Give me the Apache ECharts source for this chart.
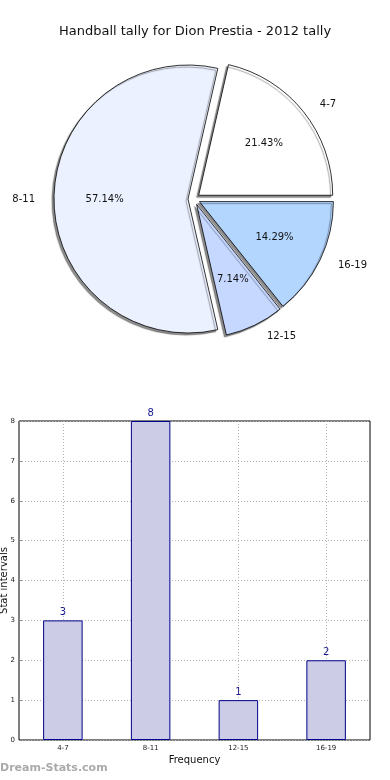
<!DOCTYPE html>
<html><head><meta charset="utf-8">
<script src="https://cdn.jsdelivr.net/npm/echarts@6/dist/echarts.min.js"></script>
<style>html,body{margin:0;padding:0;background:#fff}#c{width:390px;height:780px}</style>
</head><body><div id="c"></div>
<script>
var categories = ['4-7', '8-11', '12-15', '16-19'];
var counts = [3, 8, 1, 2];
var sliceColors = ['#ffffff', '#ebf1ff', '#c6d8ff', '#b3d6ff'];
var yTicks = [0, 1, 2, 3, 4, 5, 6, 7, 8];
var titleText = 'Handball tally for Dion Prestia - 2012 tally';

var total = counts.reduce(function (a, b) { return a + b; }, 0);
var FONT = 'DejaVu Sans';
var pieCenter = [194, 199];
var R = 134;

function pieData(withColor) {
  return categories.map(function (c, i) {
    return {
      name: c, value: counts[i], selected: true,
      itemStyle: withColor ? { color: sliceColors[i] } : { color: 'rgba(0,0,0,0)', borderWidth: 0 }
    };
  });
}

var chart = echarts.init(document.getElementById('c'), null, { renderer: 'canvas' });
chart.setOption({
  animation: false,
  title: {
    text: titleText, left: 'center', top: 20,
    textStyle: { fontFamily: FONT, fontSize: 13, fontWeight: 'normal', color: '#111' }
  },
  graphic: [{
    type: 'text', left: 0, top: 763,
    style: { text: 'Dream-Stats.com', fontFamily: FONT, fontSize: 11, fontWeight: 'bold', fill: '#aaaaaa' }
  }],
  grid: {
    left: 19, right: 20, top: 421, bottom: 40, show: true,
    containLabel: false, outerBoundsMode: 'none',
    borderColor: '#000', borderWidth: 1, backgroundColor: 'transparent'
  },
  xAxis: {
    type: 'category', data: categories,
    name: 'Frequency', nameLocation: 'middle', nameGap: 15, nameMoveOverlap: false,
    nameTextStyle: { fontFamily: FONT, fontSize: 10, color: '#111' },
    axisLine: { show: false },
    axisTick: { show: true, alignWithLabel: true, inside: true, length: 3, lineStyle: { color: '#888' } },
    axisLabel: { fontFamily: FONT, fontSize: 7, color: '#222', margin: 5 },
    splitLine: { show: true, alignWithLabel: true, lineStyle: { color: '#b4b4b4', type: [1, 2], width: 1 } }
  },
  yAxis: {
    type: 'value', min: 0, max: 8, interval: 1,
    name: 'Stat intervals', nameLocation: 'middle', nameGap: 10, nameRotate: 90, nameMoveOverlap: false,
    nameTextStyle: { fontFamily: FONT, fontSize: 10, color: '#111' },
    axisLine: { show: false },
    axisTick: { show: true, inside: true, length: 3, lineStyle: { color: '#888' } },
    axisLabel: { fontFamily: FONT, fontSize: 7, color: '#222', margin: 4 },
    splitLine: { show: true, lineStyle: { color: '#b4b4b4', type: [1, 2], width: 1 } }
  },
  series: [
    {
      type: 'pie', center: pieCenter, radius: R,
      startAngle: 0, clockwise: false,
      selectedMode: 'multiple', selectedOffset: 6,
      emphasis: { disabled: true },
      itemStyle: {
        borderColor: '#000', borderWidth: 0.8,
        shadowColor: 'rgba(0,0,0,0.45)', shadowBlur: 1, shadowOffsetX: -2, shadowOffsetY: 2
      },
      label: {
        show: true, position: 'outside', formatter: '{b}',
        fontFamily: FONT, fontSize: 10, color: '#111'
      },
      labelLine: { show: false, length: 12, length2: 2 },
      data: pieData(true)
    },
    {
      type: 'pie', center: pieCenter, radius: R * 1.2,
      startAngle: 0, clockwise: false,
      selectedMode: 'multiple', selectedOffset: 6,
      emphasis: { disabled: true }, silent: true,
      label: {
        show: true, position: 'inside',
        formatter: function (p) { return (p.value / total * 100).toFixed(2) + '%'; },
        fontFamily: FONT, fontSize: 10, color: '#111'
      },
      labelLine: { show: false },
      data: pieData(false)
    },
    {
      type: 'bar', data: counts, barWidth: '45%',
      itemStyle: { color: '#ccccE6', borderColor: '#00008b', borderWidth: 1 },
      label: { show: true, position: 'top', distance: 3, fontFamily: FONT, fontSize: 10, color: '#1a1a8c' },
      emphasis: { disabled: true }
    }
  ]
});
</script></body></html>
